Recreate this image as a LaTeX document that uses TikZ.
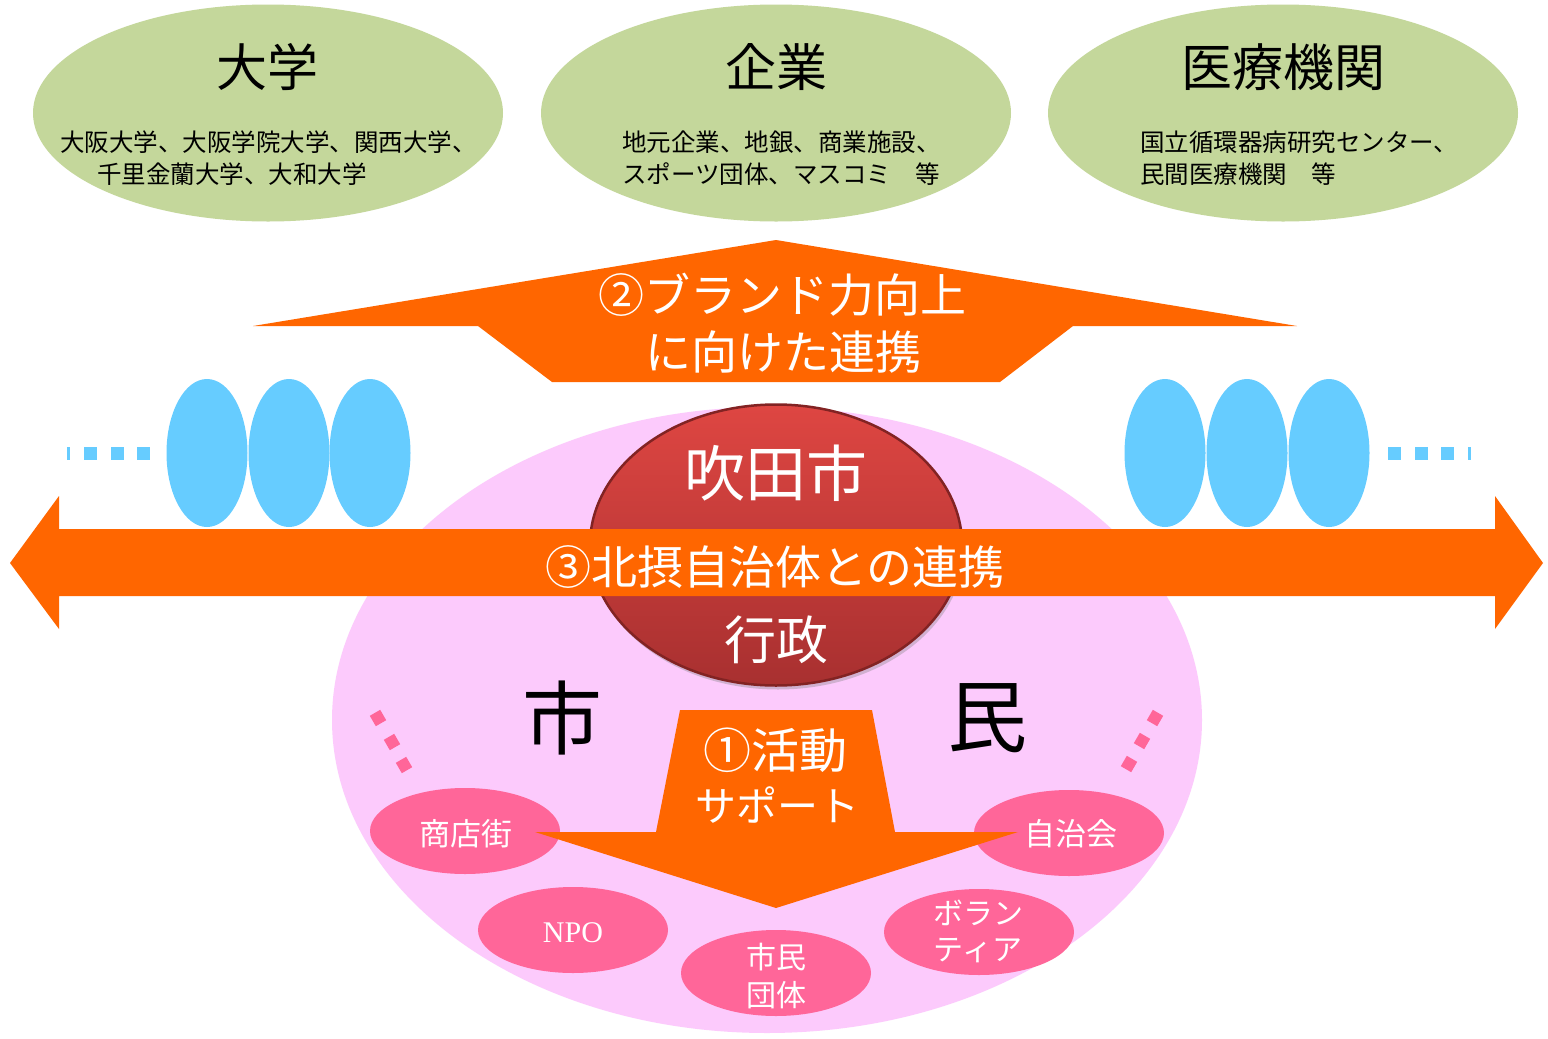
\documentclass[tikz,border=0pt]{standalone}
\usepackage{fontspec}
\setmainfont{Noto Sans CJK JP}
\newfontfamily\latinserif{Liberation Serif}
\usetikzlibrary{shapes.geometric,shadows}
\definecolor{grn}{RGB}{196,215,155}
\definecolor{orng}{RGB}{255,102,0}
\definecolor{skyb}{RGB}{102,204,255}
\definecolor{lpink}{RGB}{252,202,252}
\definecolor{hpink}{RGB}{255,102,153}
\definecolor{redtop}{RGB}{222,70,66}
\definecolor{redbot}{RGB}{168,48,48}
\definecolor{redrim}{RGB}{130,35,35}
\newcommand{\fs}[1]{\fontsize{#1}{#1}\selectfont}
\begin{document}
\begin{tikzpicture}[x=1pt,y=-1pt,
  every node/.style={inner sep=0pt,outer sep=0pt},
  greenoval/.style={ellipse,fill=grn,minimum width=470pt,minimum height=217pt},
  blueoval/.style={ellipse,fill=skyb,minimum width=81pt,minimum height=148pt},
  smalloval/.style={ellipse,fill=hpink,minimum width=190pt,minimum height=86pt},
  pinksq/.style={fill=hpink,minimum width=12pt,minimum height=12pt,rotate=30},
  bluesq/.style={fill=skyb,minimum width=13pt,minimum height=13pt},
  blk/.style={text=black},
  wht/.style={text=white},
  arrowfill/.style={fill=orng,draw=none}]
\useasboundingbox[fill=white] (0,0) rectangle (1548,1039);

% top green ellipses
\node[greenoval] (uni) at (268,113) {};
\node[greenoval] (ent) at (776,113) {};
\node[greenoval] (med) at (1283,113) {};
\node[blk,font=\fs{51}] (unit) at (267,67) {大学};
\node[blk,font=\fs{51}] (entt) at (776,67) {企業};
\node[blk,font=\fs{51}] (medt) at (1283,67) {医療機関};
\node[blk,font=\fs{24.5},anchor=west] (unia) at (60,142) {大阪大学、大阪学院大学、関西大学、};
\node[blk,font=\fs{24.5},anchor=west] (unib) at (97,174) {千里金蘭大学、大和大学};
\node[blk,font=\fs{24.5},anchor=west] (enta) at (622,142) {地元企業、地銀、商業施設、};
\node[blk,font=\fs{24.5},anchor=west] (entb) at (622,174) {スポーツ団体、マスコミ　等};
\node[blk,font=\fs{24.5},anchor=west] (meda) at (1140,142) {国立循環器病研究センター、};
\node[blk,font=\fs{24.5},anchor=west] (medb) at (1140,174) {民間医療機関　等};

% upper arrow (2)
\fill[arrowfill] (253,326) -- (776,240) -- (1297,326) -- (1073,326) -- (1000,382)
  -- (552,382) -- (478,326) -- cycle;
\node[wht,font=\fs{46}] (brand1) at (782,295) {②ブランド力向上};
\node[wht,font=\fs{46}] (brand2) at (783,352) {に向けた連携};

% blue ellipses and dots
\node[blueoval] (bl1) at (207,453) {};
\node[blueoval] (bl2) at (289,453) {};
\node[blueoval] (bl3) at (370,453) {};
\node[blueoval] (br1) at (1165,453) {};
\node[blueoval] (br2) at (1247,453) {};
\node[blueoval] (br3) at (1329,453) {};
\fill[skyb] (67,447) rectangle (70,460);
\node[bluesq] (dl1) at (90,453) {};
\node[bluesq] (dl2) at (117,453) {};
\node[bluesq] (dl3) at (143,453) {};
\node[bluesq] (dr1) at (1394,453) {};
\node[bluesq] (dr2) at (1421,453) {};
\node[bluesq] (dr3) at (1447,453) {};
\fill[skyb] (1468,447) rectangle (1471,460);

% big pink ellipse
\node[ellipse,fill=lpink,minimum width=870pt,minimum height=626pt] (citizen) at (767,720) {};

% red ellipse
\node[ellipse,minimum width=372pt,minimum height=281pt,top color=redtop,bottom color=redbot,
  draw=redrim,line width=2.5pt,
  drop shadow={shadow xshift=2pt,shadow yshift=-4pt,opacity=0.35}] (city) at (776,545) {};
\node[wht,font=\fs{61}] (cityt) at (776,473) {吹田市};
\node[wht,font=\fs{52}] (govt) at (776,640) {行政};

% horizontal double arrow (3)
\fill[arrowfill] (10,563) -- (59,496) -- (59,529) -- (1495,529) -- (1495,496) -- (1543,563)
  -- (1495,629) -- (1495,596) -- (59,596) -- (59,629) -- cycle;
\node[wht,font=\fs{46}] (hokusetsu) at (775,567) {③北摂自治体との連携};

% 市 民
\node[blk,font=\fs{80}] (shi) at (562,718) {市};
\node[blk,font=\fs{80}] (min) at (987,718) {民};

% pink dots
\node[pinksq] (pl1) at (378,718) {};
\node[pinksq] (pl2) at (392,742) {};
\node[pinksq] (pl3) at (404,765) {};
\node[pinksq,rotate=-60] (pr1) at (1155,718) {};
\node[pinksq,rotate=-60] (pr2) at (1142,741) {};
\node[pinksq,rotate=-60] (pr3) at (1129,764) {};

% small pink ellipses
\node[smalloval] (shop) at (465,831) {};
\node[smalloval] (npo) at (573,930) {};
\node[smalloval] (grp) at (776,973) {};
\node[smalloval] (jichi) at (1069,833) {};
\node[smalloval] (vol) at (979,932) {};

% down arrow (1)
\fill[arrowfill] (680,710) -- (872,710) -- (895,832) -- (1018,832) -- (776,908)
  -- (535,832) -- (656,832) -- cycle;
\node[wht,font=\fs{48}] (act1) at (775,750) {①活動};
\node[wht,font=\fs{41}] (act2) at (777,805) {サポート};

% texts in small ellipses
\node[wht,font=\fs{31}] (shopt) at (466,834) {商店街};
\node[wht,font={\latinserif\fs{30}}] (npot) at (573,933) {NPO};
\node[wht,font=\fs{30}] (grpa) at (776,957) {市民};
\node[wht,font=\fs{30}] (grpb) at (776,995) {団体};
\node[wht,font=\fs{31}] (jichit) at (1071,834) {自治会};
\node[wht,font=\fs{30}] (vola) at (978,913) {ボラン};
\node[wht,font=\fs{30}] (volb) at (978,951) {ティア};
\end{tikzpicture}
\end{document}
